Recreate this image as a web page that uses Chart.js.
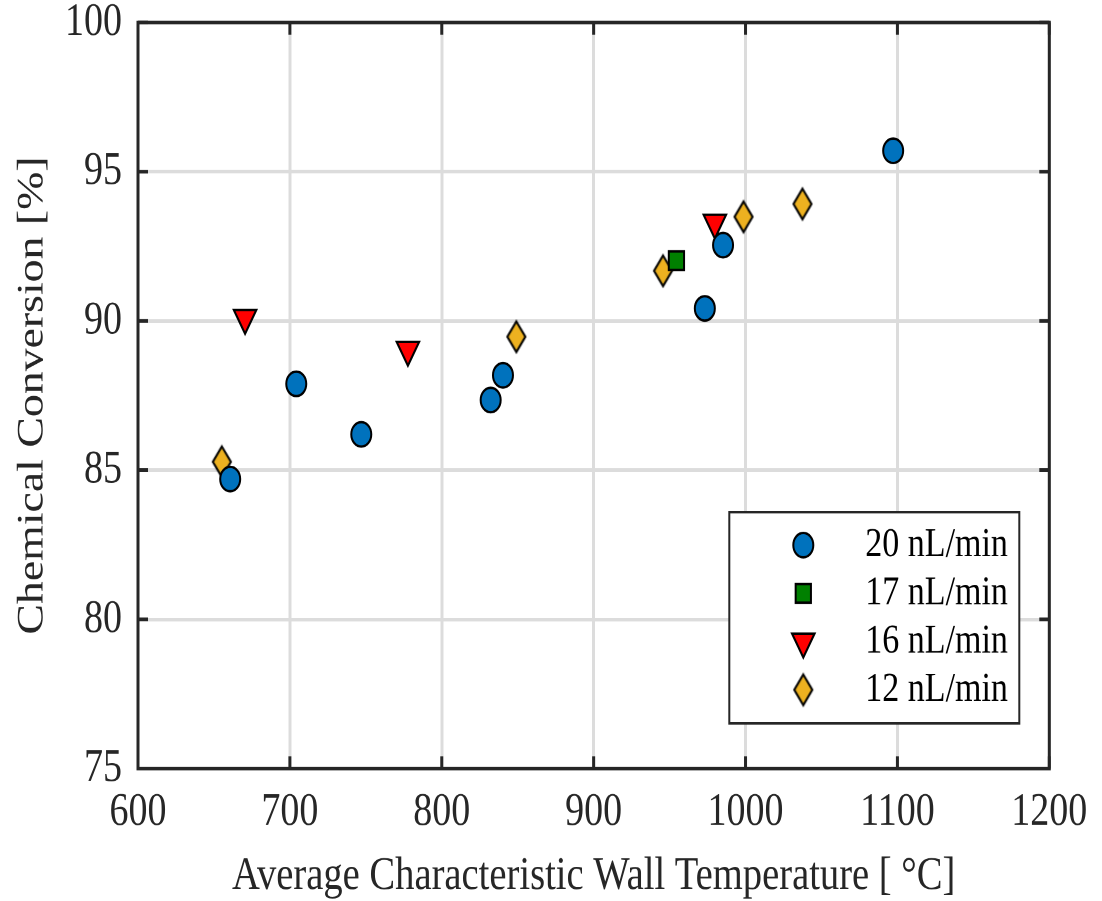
<!DOCTYPE html>
<html>
<head>
<meta charset="utf-8">
<script src="https://cdn.jsdelivr.net/npm/chart.js@4.4.1/dist/chart.umd.min.js"></script>
<style>
  html, body { margin: 0; padding: 0; background: #fff; overflow: hidden; }
  /* the reference figure is stretched vertically, so the whole chart is too */
  #wrap { position: absolute; left: 0; top: 0; width: 1102px; height: 738px;
          transform: scale(1, 1.2209); transform-origin: 0 0; }
</style>
</head>
<body>
<div id="wrap"><canvas id="chart"></canvas></div>
<script>
// --- data ---
const seriesLabels = ['20 nL/min', '17 nL/min', '16 nL/min', '12 nL/min'];

const temp20 = [660.7, 704.2, 747.0, 832.2, 840.3, 973.2, 985.2, 1097.2];
const conv20 = [84.70, 87.89, 86.20, 87.35, 88.18, 90.42, 92.54, 95.70];

const temp17 = [954.5];
const conv17 = [92.02];

const temp16 = [670.5, 777.7, 979.8];
const conv16 = [90.10, 89.03, 93.29];

const temp12 = [655.2, 849.1, 945.7, 998.7, 1037.5];
const conv12 = [85.28, 89.47, 91.68, 93.49, 93.92];

const xTicks = [600, 700, 800, 900, 1000, 1100, 1200];
const yTicks = [75, 80, 85, 90, 95, 100];

const FONT = "'Liberation Serif', 'Times New Roman', Times, serif";
const INK = '#262626';

const pts = (xs, ys) => xs.map((x, i) => ({ x: x, y: ys[i] }));

function diamondImage() {
  const c = document.createElement('canvas');
  c.width = 24; c.height = 30;
  const g = c.getContext('2d');
  g.beginPath();
  g.moveTo(12, 2.5); g.lineTo(21, 15); g.lineTo(12, 27.5); g.lineTo(3, 15);
  g.closePath();
  g.fillStyle = '#EDB120'; g.fill();
  g.lineWidth = 2; g.strokeStyle = '#000'; g.stroke();
  return c;
}
const diamond = diamondImage();

// box round the plot with ticks pointing inwards on all four sides
const boxAxes = {
  id: 'boxAxes',
  beforeDatasetsDraw(chart) {
    const { ctx, chartArea: a, scales: { x, y } } = chart;
    const tl = 10;
    ctx.save();
    ctx.strokeStyle = INK;
    ctx.lineWidth = 3;
    ctx.beginPath();
    x.ticks.forEach(t => {
      const px = x.getPixelForValue(t.value);
      ctx.moveTo(px, a.bottom); ctx.lineTo(px, a.bottom - tl);
      ctx.moveTo(px, a.top); ctx.lineTo(px, a.top + tl);
    });
    y.ticks.forEach(t => {
      const py = y.getPixelForValue(t.value);
      ctx.moveTo(a.left, py); ctx.lineTo(a.left + tl, py);
      ctx.moveTo(a.right, py); ctx.lineTo(a.right - tl, py);
    });
    ctx.stroke();
    ctx.strokeRect(a.left, a.top, a.right - a.left, a.bottom - a.top);
    ctx.restore();
  }
};

// legend boxed inside the lower right corner of the plot
const boxLegend = {
  id: 'boxLegend',
  afterDraw(chart) {
    const { ctx, chartArea: a } = chart;
    const w = 290, h = 173;
    const right = a.right - 30, bottom = a.bottom - 37;
    const left = right - w, top = bottom - h;
    ctx.save();
    ctx.fillStyle = '#fff';
    ctx.fillRect(left, top, w, h);
    ctx.strokeStyle = INK;
    ctx.lineWidth = 2;
    ctx.strokeRect(left, top, w, h);
    chart.data.datasets.forEach((ds, i) => {
      const cy = top + 27 + i * 39.5;
      const cx = left + 74;
      ctx.fillStyle = ds.pointBackgroundColor;
      ctx.strokeStyle = ds.pointBorderColor;
      ctx.lineWidth = ds.pointBorderWidth;
      Chart.helpers.drawPoint(ctx, {
        pointStyle: ds.pointStyle,
        radius: ds.pointRadius,
        rotation: ds.pointRotation || 0,
        borderWidth: ds.pointBorderWidth
      }, cx, cy);
      ctx.fillStyle = '#000';
      ctx.font = '34px ' + FONT;
      ctx.textAlign = 'left';
      ctx.textBaseline = 'middle';
      ctx.fillText(ds.label, left + 136, cy);
    });
    ctx.restore();
  }
};

const tickFont = { family: FONT, size: 38, lineHeight: 1 };

new Chart(document.getElementById('chart'), {
  type: 'scatter',
  data: {
    datasets: [
      { label: seriesLabels[0], data: pts(temp20, conv20), pointStyle: 'circle', pointRadius: 10,
        pointBackgroundColor: '#0072BD', pointBorderColor: '#000', pointBorderWidth: 2 },
      { label: seriesLabels[1], data: pts(temp17, conv17), pointStyle: 'rect', pointRadius: 10.8,
        pointBackgroundColor: '#008000', pointBorderColor: '#000', pointBorderWidth: 2 },
      { label: seriesLabels[2], data: pts(temp16, conv16), pointStyle: 'triangle', pointRadius: 13,
        pointRotation: 180, pointBackgroundColor: '#FF0000', pointBorderColor: '#000', pointBorderWidth: 2 },
      { label: seriesLabels[3], data: pts(temp12, conv12), pointStyle: diamond, pointRadius: 12,
        pointBackgroundColor: '#EDB120', pointBorderColor: '#000', pointBorderWidth: 2 }
    ]
  },
  options: {
    responsive: true,
    maintainAspectRatio: false,
    devicePixelRatio: 2,
    animation: false,
    events: [],
    layout: { padding: { left: 0, right: 52.7, top: 18.4, bottom: 0 } },
    plugins: { legend: { display: false }, tooltip: { enabled: false } },
    scales: {
      x: {
        type: 'linear', min: 600, max: 1200,
        afterBuildTicks: s => { s.ticks = xTicks.map(v => ({ value: v })); },
        afterFit: s => { s.height = 108.5; s.paddingLeft = 0; s.paddingRight = 0; },
        grid: { color: '#dcdcdc', lineWidth: 3, drawTicks: false },
        border: { display: false },
        ticks: { font: tickFont, color: INK, padding: 17, maxRotation: 0, callback: v => String(v) },
        title: { display: true, text: 'Average Characteristic Wall Temperature [ °C]',
                 font: { family: FONT, size: 38.6, lineHeight: 1 }, color: INK, padding: { top: 0, bottom: 1 } }
      },
      y: {
        type: 'linear', min: 75, max: 100,
        afterBuildTicks: s => { s.ticks = yTicks.map(v => ({ value: v })); },
        afterFit: s => { s.width = 138; s.paddingTop = 0; s.paddingBottom = 0; },
        grid: { color: '#dcdcdc', lineWidth: 3, drawTicks: false },
        border: { display: false },
        ticks: { font: tickFont, color: INK, padding: 16, callback: v => String(v) },
        title: { display: true, text: 'Chemical Conversion [%]',
                 font: { family: FONT, size: 37.5, lineHeight: 1 }, color: INK, padding: { top: 14, bottom: 0 } }
      }
    }
  },
  plugins: [boxAxes, boxLegend]
});
</script>
</body>
</html>
